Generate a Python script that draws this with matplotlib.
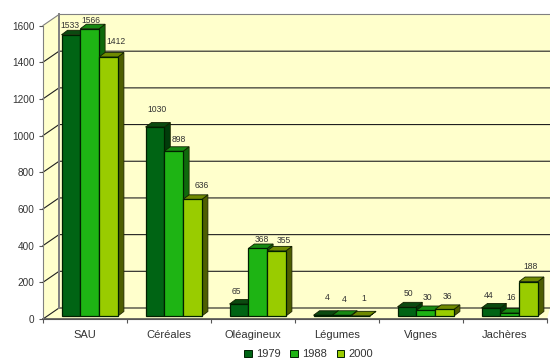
import matplotlib
matplotlib.use('Agg')
import matplotlib.pyplot as plt
from matplotlib.patches import Polygon, Patch

plt.rcParams['font.family'] = ['Liberation Sans', 'DejaVu Sans']

#------ DONNEES

categories = ['SAU', 'Céréales', 'Oléagineux', 'Légumes', 'Vignes', 'Jachères']
annees = ['1979', '1988', '2000']
v1979 = [1533, 1030, 65, 4, 50, 44]
v1988 = [1566, 898, 368, 4, 30, 16]
v2000 = [1412, 636, 355, 1, 36, 188]
yticks = [0, 200, 400, 600, 800, 1000, 1200, 1400, 1600]

#------ STYLE

couleurs = ['#006414', '#1EB414', '#99CC00']
dessus = ['#0B4A10', '#178A12', '#6F8A00']
cotes = ['#003C0A', '#0F6A0C', '#4E5E00']
mur = '#FFFFCC'

# decalage des etiquettes par rapport a la barre (pixels)
decal_y = [[9, 8, 15], [18, 12, 14], [13, 9, 10], [18, 16, 17], [13, 13, 13], [12, 16, 15]]
decal_x = [[-1, 1, 8], [2, 5, 9], [-3, 4, 7], [4, 3, 3], [2, 2, 3], [-2, 1, 2]]

# un pixel en unites de donnees
px_x = 1 / 84
px_y = 1 / 0.1834

prof_x = 16 * px_x
prof_y = 11 * px_y
barre = 18.8 * px_x
bx = 6 * px_x
by = 4.5 * px_y

fig = plt.figure(figsize=(5.5, 3.6), dpi=100)
ax = fig.add_axes([43 / 550, 1 - 319 / 360, 504 / 550, 293.5 / 360])
ax.set_xlim(0, 6)
ax.set_ylim(0, 1600)

# murs et sol
xfin = 6 + 3 * px_x
ax.add_patch(Polygon([(prof_x, prof_y), (xfin, prof_y), (xfin, 1600 + prof_y), (prof_x, 1600 + prof_y)],
                     fc=mur, ec='none', clip_on=False, zorder=1))
ax.add_patch(Polygon([(0, 0), (prof_x, prof_y), (prof_x, 1600 + prof_y), (0, 1600)],
                     fc=mur, ec='none', clip_on=False, zorder=1))
ax.add_patch(Polygon([(0, 0), (6, 0), (xfin, prof_y), (prof_x, prof_y)],
                     fc=mur, ec='none', clip_on=False, zorder=1))

for t in yticks:
    coul = '#808080' if t == 1600 else '#202020'
    ax.plot([0, prof_x, xfin], [t, t + prof_y, t + prof_y], color=coul, lw=0.8, clip_on=False, zorder=2)
ax.plot([prof_x, prof_x], [prof_y, 1600 + prof_y], color='#808080', lw=1.4, clip_on=False, zorder=2)
ax.plot([0, 6], [0, 0], color='#555555', lw=1.2, clip_on=False, zorder=2)

# barres
series = [v1979, v1988, v2000]
for i in range(len(categories)):
    x = i + 18.5 * px_x
    y0 = 3 * px_y
    for j in range(3):
        v = series[j][i]
        g = x + j * barre
        d = g + barre
        z = 3 + i + j * 0.1
        ax.add_patch(Polygon([(d, y0), (d + bx, y0 + by), (d + bx, y0 + v + by), (d, y0 + v)],
                             fc=cotes[j], ec='#202800', lw=0.6, clip_on=False, zorder=z))
        ax.add_patch(Polygon([(g, y0 + v), (g + bx, y0 + v + by), (d + bx, y0 + v + by), (d, y0 + v)],
                             fc=dessus[j], ec='#102000', lw=0.6, clip_on=False, zorder=z))
        ax.add_patch(Polygon([(g, y0), (d, y0), (d, y0 + v), (g, y0 + v)],
                             fc=couleurs[j], ec='#002000', lw=0.9, clip_on=False, zorder=z))
        ax.text(g + barre / 2 + decal_x[i][j] * px_x, y0 + v + decal_y[i][j] * px_y, str(v), ha='center', va='center',
                fontsize=6.2, color='#333333', zorder=20, clip_on=False)

for s in ['top', 'right']:
    ax.spines[s].set_visible(False)
ax.spines['left'].set_color('#808080')
ax.spines['bottom'].set_color('#555555')
ax.set_yticks(yticks)
ax.set_xticks(range(7))
ax.set_xticklabels([])
ax.set_xticks([i + 0.5 for i in range(6)], minor=True)
ax.set_xticklabels(categories, minor=True)
ax.tick_params(axis='x', which='minor', length=0, pad=8, labelsize=8, labelcolor='#333333')
ax.tick_params(axis='x', which='major', length=3, color='#555555')
ax.tick_params(axis='y', length=3, color='#555555', pad=3, labelsize=7.2, labelcolor='#333333')

poignees = [Patch(fc=couleurs[j], ec='#002000', lw=0.7, label=annees[j]) for j in range(3)]
fig.legend(handles=poignees, loc='lower left', bbox_to_anchor=(236 / 550, -0.02), ncol=3, frameon=False,
           fontsize=8, handlelength=0.7, handleheight=0.7, handletextpad=0.4, columnspacing=0.85,
           labelcolor='#333333', borderpad=0.2)

fig.savefig('out.png', dpi=100)
